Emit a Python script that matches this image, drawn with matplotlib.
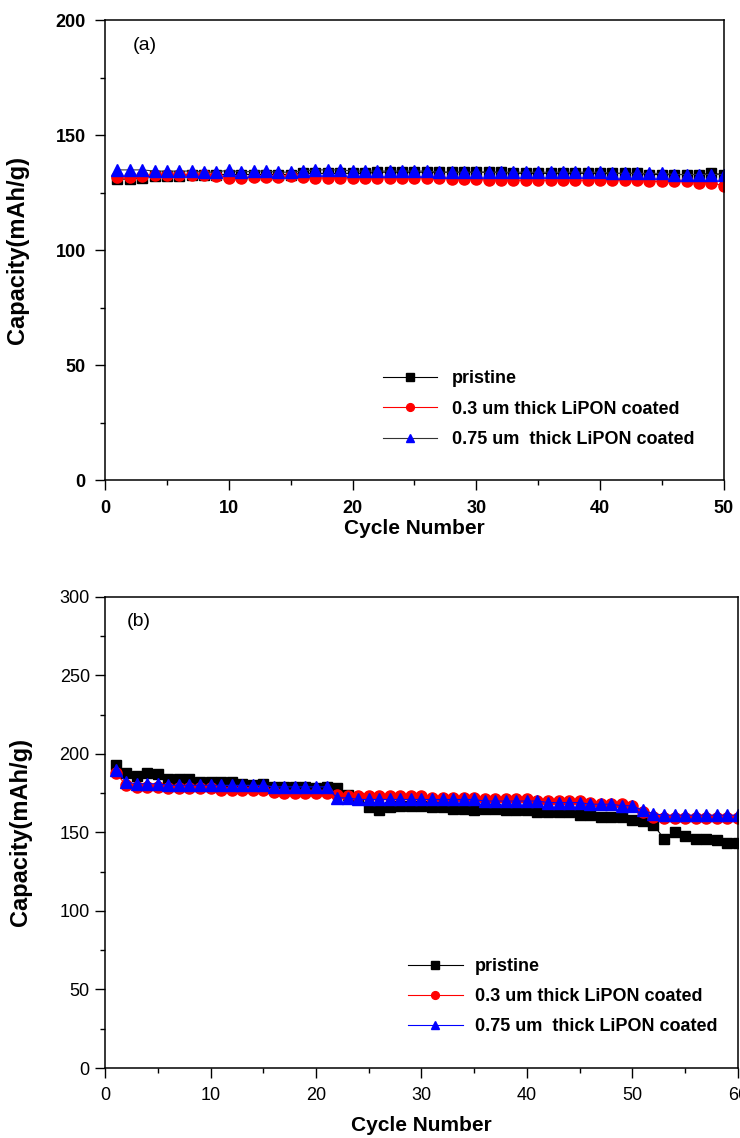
import numpy as np
import matplotlib
matplotlib.use("Agg")
import matplotlib.pyplot as plt
from matplotlib.ticker import MultipleLocator

plt.rcParams['font.family'] = ['Liberation Sans', 'DejaVu Sans']

# panel (a): 50 cycles
cyc_a = np.arange(1, 51)
pristine_a = [131, 131, 131.5, 132.5, 132.5, 132.5, 133, 133, 133, 133,
              133, 133, 133, 133, 133, 133.5, 133.5, 133.5, 133.5, 133.5,
              133.5, 134, 134, 134, 134, 134, 134, 134, 134, 134,
              134, 134, 133.5, 133.5, 133.5, 133.5, 133.5, 133.5, 133.5, 133.5,
              133.5, 133.5, 133.5, 133, 133, 133, 133, 133, 133.5, 133]
lipon03_a = [132, 132, 132.5, 133, 133, 133, 133, 133, 132.5, 131.5,
             131.5, 132, 132, 132, 132.5, 132, 131.5, 131.5, 131.5, 131.5,
             131.5, 131.5, 131.5, 131.5, 131.5, 131.5, 131.5, 131, 131, 131,
             130.5, 130.5, 130.5, 130.5, 130.5, 130.5, 130.5, 130.5, 130.5, 130.5,
             130.5, 130.5, 130.5, 130, 130, 130, 130, 129.5, 129.5, 128]
lipon075_a = [135, 135, 135, 134.5, 134.5, 134.5, 134.5, 134, 134, 135,
              134, 134.5, 134.5, 134, 134, 134.5, 135, 135, 135, 134.5,
              134.5, 134.5, 134.5, 134.5, 134.5, 134.5, 134, 134, 134, 134,
              134, 134, 134, 134, 134, 134, 134, 134, 134, 134,
              133.5, 133.5, 133.5, 133.5, 133.5, 133, 133, 133, 133, 133]

# panel (b): 60 cycles
cyc_b = np.arange(1, 61)
pristine_b = [193, 188, 186, 188, 187, 184, 184, 184, 182, 182,
              182, 182, 181, 180, 181, 179, 179, 179, 179, 178,
              179, 178, 174, 172, 166, 164, 166, 167, 167, 167,
              166, 166, 165, 165, 164, 165, 165, 164, 164, 164,
              163, 163, 163, 163, 161, 161, 160, 160, 160, 158,
              157, 155, 146, 150, 148, 146, 146, 145, 143, 143]
lipon03_b = [188, 180, 179, 179, 179, 178, 178, 178, 178, 178,
             177, 177, 177, 177, 177, 176, 175, 175, 175, 175,
             175, 174, 173, 173, 173, 173, 173, 173, 173, 173,
             172, 172, 172, 172, 172, 171, 171, 171, 171, 171,
             170, 170, 170, 170, 170, 169, 168, 168, 168, 167,
             163, 160, 159, 159, 159, 159, 159, 159, 159, 159]
lipon075_b = [190, 182, 181, 181, 181, 180, 180, 180, 180, 180,
              180, 180, 180, 180, 180, 179, 179, 179, 179, 179,
              179, 172, 172, 171, 171, 171, 171, 171, 171, 171,
              171, 171, 171, 171, 171, 170, 170, 170, 170, 170,
              170, 169, 169, 169, 169, 168, 168, 168, 167, 167,
              164, 162, 161, 161, 161, 161, 161, 161, 161, 161]

labels = ['pristine', '0.3 um thick LiPON coated', '0.75 um  thick LiPON coated']

fig = plt.figure(figsize=(7.4, 11.38), dpi=100)
ax1 = fig.add_axes([0.142, 0.578, 0.836, 0.404])
ax2 = fig.add_axes([0.142, 0.0615, 0.855, 0.414])


def draw(ax, x, ys, tri_line, bold_ticks, ypad):
    ax.plot(x, ys[0], '-', color='black', lw=0.8, marker='s', ms=7.5,
            mfc='black', mec='black', label=labels[0])
    ax.plot(x, ys[1], '-', color='red', lw=0.8, marker='o', ms=8,
            mfc='red', mec='red', label=labels[1])
    ax.plot(x, ys[2], '-', color=tri_line, lw=0.8, marker='^', ms=9,
            mfc='blue', mec='blue', label=labels[2])
    ax.xaxis.set_minor_locator(MultipleLocator(5))
    ax.tick_params(which='both', direction='out', width=1)
    ax.tick_params(which='major', length=7, labelsize=13)
    ax.tick_params(axis='y', which='major', pad=ypad)
    ax.tick_params(axis='x', which='major', pad=7)
    ax.tick_params(which='minor', length=3.5)
    for s in ax.spines.values():
        s.set_linewidth(1.1)
    if bold_ticks:
        for t in ax.get_xticklabels() + ax.get_yticklabels():
            t.set_fontweight('bold')
    ax.set_xlabel('Cycle Number', fontsize=15, fontweight='bold')
    ax.set_ylabel('Capacity(mAh/g)', fontsize=17, fontweight='bold')


ax1.set_xlim(0, 50)
ax1.set_ylim(0, 200)
ax1.xaxis.set_major_locator(MultipleLocator(10))
ax1.yaxis.set_major_locator(MultipleLocator(50))
ax1.yaxis.set_minor_locator(MultipleLocator(25))
draw(ax1, cyc_a, [pristine_a, lipon03_a, lipon075_a], '#333333', True, 7)
ax1.xaxis.set_label_coords(0.5, -0.085)
ax1.yaxis.set_label_coords(-0.123, 0.5)
ax1.text(0.045, 0.965, '(a)', transform=ax1.transAxes, fontsize=14, va='top')
ax1.legend(loc='upper left', bbox_to_anchor=(0.438, 0.255), borderaxespad=0,
           frameon=False, prop={'weight': 'bold', 'size': 13}, handlelength=3,
           handletextpad=0.8, labelspacing=0.75, markerscale=0.7)

ax2.set_xlim(0, 60)
ax2.set_ylim(0, 300)
ax2.xaxis.set_major_locator(MultipleLocator(10))
ax2.yaxis.set_major_locator(MultipleLocator(50))
ax2.yaxis.set_minor_locator(MultipleLocator(25))
draw(ax2, cyc_b, [pristine_b, lipon03_b, lipon075_b], 'blue', False, 4)
ax2.xaxis.set_label_coords(0.5, -0.102)
ax2.yaxis.set_label_coords(-0.115, 0.5)
ax2.text(0.035, 0.965, '(b)', transform=ax2.transAxes, fontsize=14, va='top')
ax2.legend(loc='upper left', bbox_to_anchor=(0.468, 0.249), borderaxespad=0,
           frameon=False, prop={'weight': 'bold', 'size': 13}, handlelength=3,
           handletextpad=0.7, labelspacing=0.72, markerscale=0.7)

fig.savefig('out.png', dpi=100)
